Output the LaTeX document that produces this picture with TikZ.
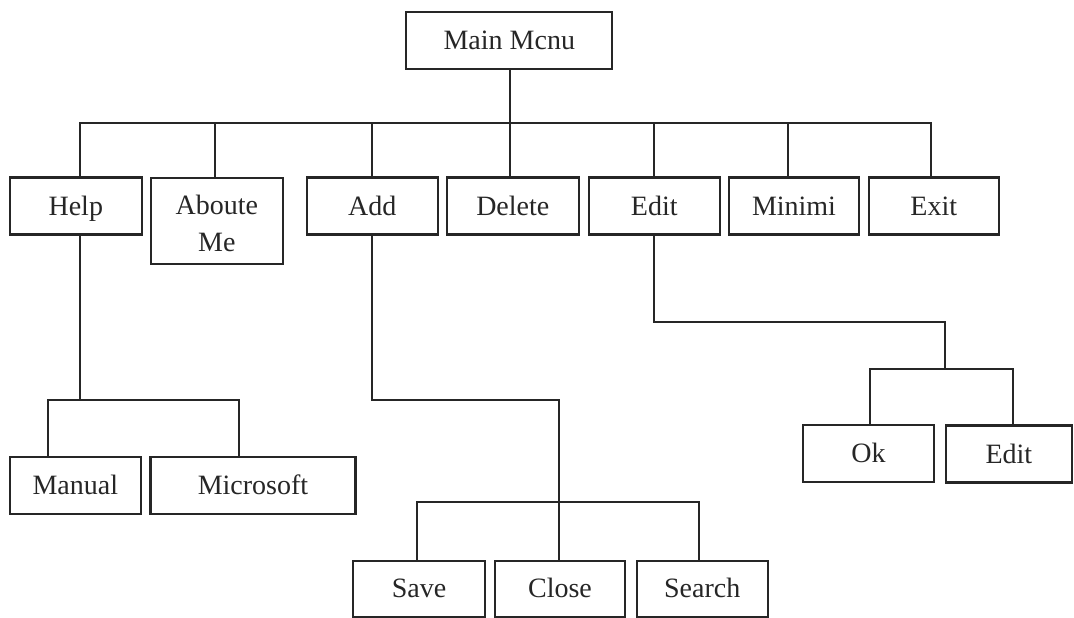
\documentclass[tikz,border=0pt]{standalone}
\usepackage{fontspec}
\setmainfont{Liberation Serif}
\begin{document}
\begin{tikzpicture}[x=1pt,y=-1pt,
  menubox/.style={draw=black!85, line width=2.1pt, inner sep=0pt, text=black!85,
    font=\fontsize{28}{37}\selectfont, align=center, minimum height=57},
  oneline/.style={menubox, text height=21.5pt, text depth=3.5pt},
  link/.style={draw=black!85, line width=1.9pt}]
\useasboundingbox (0,0) rectangle (1074,618);

% root
\node[oneline, minimum width=206] (main) at (509.3,40.8) {Main Mcnu};

% first level
\node[oneline, minimum width=132] (help)   at (75.8,206) {Help};
\node[menubox, minimum width=132, minimum height=86.6] (about) at (216.8,221) {\rule{0pt}{25pt}Aboute\\Me};
\node[oneline, minimum width=131] (add)    at (372.3,206) {Add};
\node[oneline, minimum width=132] (delete) at (512.8,206) {Delete};
\node[oneline, minimum width=131] (edit)   at (654.3,206) {Edit};
\node[oneline, minimum width=130] (minimi) at (794,206) {Minimi};
\node[oneline, minimum width=130] (exit)   at (933.8,206) {Exit};

% help children
\node[oneline, minimum width=131] (manual)    at (75.3,485.5) {Manual};
\node[oneline, minimum width=205] (microsoft) at (253,485.5) {Microsoft};

% add children
\node[oneline, minimum width=132, minimum height=56] (save)   at (419,588.7) {Save};
\node[oneline, minimum width=130, minimum height=56] (close)  at (560,588.7) {Close};
\node[oneline, minimum width=131, minimum height=56] (search) at (702.2,588.7) {Search};

% edit children
\node[oneline, minimum width=131] (ok)    at (868.6,453.4) {Ok};
\node[oneline, minimum width=126] (edit2) at (1008.9,454) {Edit};

% bus lines
\coordinate (bus)   at (510,123.3);
\coordinate (hbus)  at (80,400);
\coordinate (sbus)  at (559,502.3);
\coordinate (ebend) at (945,321.7);
\coordinate (ebus)  at (945,369);

% root to first level
\draw[link] ([xshift=0.7]main.south) -- ([xshift=0.7]main.south |- bus);
\draw[link] ([xshift=4.2]help.north) |- (bus) -| ([xshift=-2.8]exit.north);
\draw[link] ([xshift=-1.8]about.north) -- ([xshift=-1.8]about.north |- bus);
\draw[link] (add.north) -- (add.north |- bus);
\draw[link] ([xshift=-2.8]delete.north) -- ([xshift=-2.8]delete.north |- bus);
\draw[link] (edit.north) -- (edit.north |- bus);
\draw[link] ([xshift=-6.4]minimi.north) -- ([xshift=-6.4]minimi.north |- bus);

% help branch
\draw[link] ([xshift=4.2]help.south) -- ([xshift=4.2]help.south |- hbus);
\draw[link] ([xshift=-27.3]manual.north) |- (hbus) -| ([xshift=-14.4]microsoft.north);

% add branch
\draw[link] (add.south) |- ([xshift=-1]close.north |- hbus) -- ([xshift=-1]close.north);
\draw[link] ([xshift=-2.3]save.north) |- (sbus) -| ([xshift=-3.2]search.north);

% edit branch
\draw[link] (edit.south) |- (ebend) -- (ebus);
\draw[link] ([xshift=1.4]ok.north) |- (ebus) -| ([xshift=4]edit2.north);
\end{tikzpicture}
\end{document}
